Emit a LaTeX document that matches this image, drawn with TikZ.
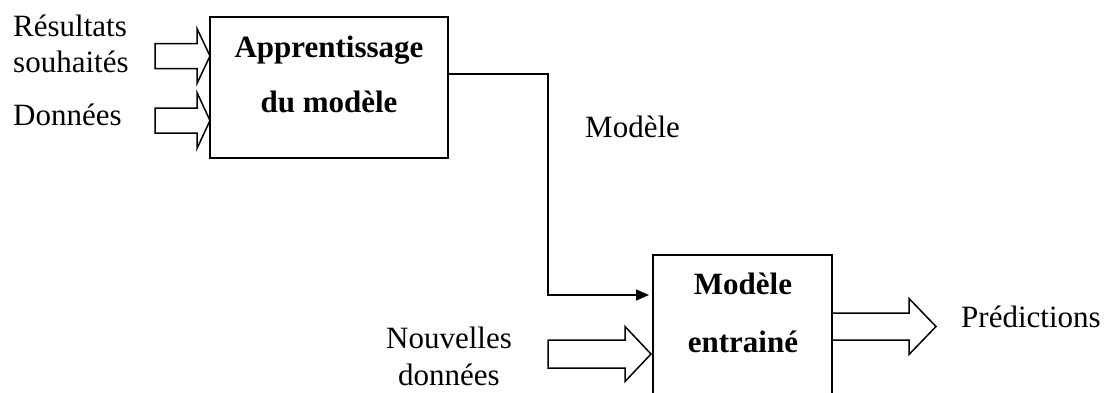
\documentclass[tikz,border=0pt]{standalone}
\usepackage{fontspec}
\setmainfont{Liberation Serif}
\usetikzlibrary{arrows.meta}
\newcommand\fatarrow[6]{% x0, xhead, xtip, ycenter, shaft half, head half
  \draw[fatstyle] ({#1},{#4-#5}) -- ({#2},{#4-#5}) -- ({#2},{#4-#6}) -- ({#3},{#4})
    -- ({#2},{#4+#6}) -- ({#2},{#4+#5}) -- ({#1},{#4+#5}) -- cycle;}
\begin{document}
\begin{tikzpicture}[x=1pt,y=-1pt,
  box/.style={draw,line width=2pt,inner sep=0pt},
  fatstyle/.style={draw,line width=1.5pt,line join=miter,fill=white},
  lbl/.style={inner sep=0pt,font=\fontsize{31}{36}\selectfont},
  blbl/.style={inner sep=0pt,font=\fontsize{31}{36}\selectfont\bfseries},
  link/.style={line width=1.5pt,-{Triangle[length=13pt,width=11pt]}}]
\useasboundingbox (0,0) rectangle (1109,392);
% boxes
\node[box,minimum width=238pt,minimum height=141pt] (learn) at (329,87.5) {};
\node[box,minimum width=179pt,minimum height=142pt] (trained) at (742.5,326) {};
% box texts
\node[blbl,anchor=base] (t1) at (329,57) {Apprentissage};
\node[blbl,anchor=base] (t2) at (329,112) {du modèle};
\node[blbl,anchor=base] (t3) at (743,294) {Modèle};
\node[blbl,anchor=base] (t4) at (743,352) {entrainé};
% input labels
\node[lbl,anchor=base west] (r1) at (13,36) {Résultats};
\node[lbl,anchor=base west] (r2) at (13,72) {souhaités};
\node[lbl,anchor=base west] (don) at (13,125) {Données};
\node[lbl,anchor=base] (n1) at (449,348) {Nouvelles};
\node[lbl,anchor=base] (n2) at (449,385) {données};
\node[lbl,anchor=base west] (pred) at (961,327) {Prédictions};
\node[lbl,anchor=base west] (mlbl) at (585,137) {Modèle};
% block arrows
\fatarrow{155}{197}{210}{56}{12.5}{27.5}
\fatarrow{155}{197}{210}{120.5}{12.5}{28}
\fatarrow{548}{625}{651}{354}{14}{27.5}
\fatarrow{832}{909}{936}{326.5}{13.5}{28}
% connector
\coordinate (from) at (449,74);
\coordinate (to) at (653,295);
\coordinate (turn) at (548,0);
\draw[link,shorten >=4pt] (from) -| (turn |- to) -- (to);
\end{tikzpicture}
\end{document}
